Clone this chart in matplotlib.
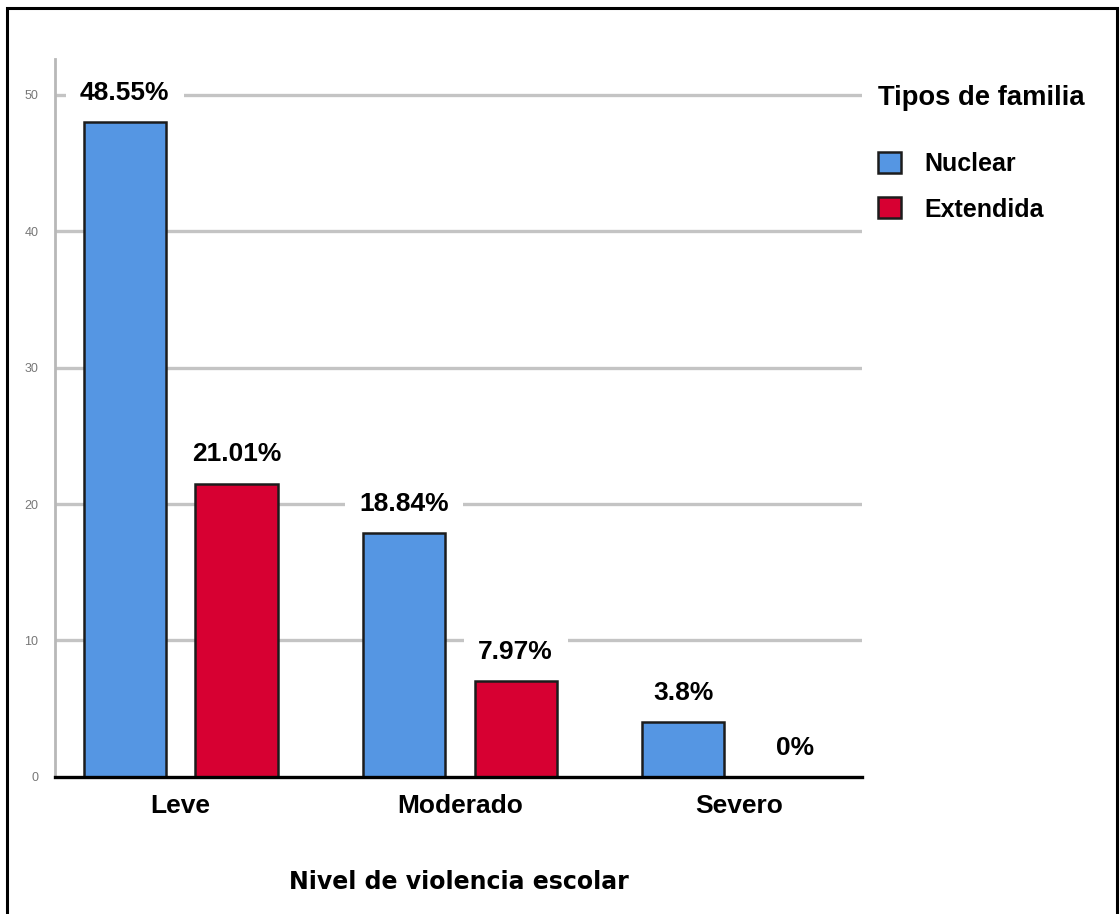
import matplotlib
matplotlib.use("Agg")
import matplotlib.pyplot as plt
import numpy as np
from matplotlib.patches import Rectangle

# data
niveles = ["Leve", "Moderado", "Severo"]
series = ["Nuclear", "Extendida"]
nuclear = [48.0, 17.9, 4.0]
extendida = [21.5, 7.0, 0.0]
nuclear_pct = ["48.55%", "18.84%", "3.8%"]
extendida_pct = ["21.01%", "7.97%", "0%"]
yticks = [0, 10, 20, 30, 40, 50]

lib = ["Liberation Sans", "DejaVu Sans"]
wide = ["DejaVu Sans", "Liberation Sans"]

fig = plt.figure(figsize=(11.2, 9.14), dpi=100)
ax = fig.add_axes([0.0491, 0.1499, 0.7205, 0.7855])

x = np.arange(len(niveles))
w = 0.294
off = 0.2
b1 = ax.bar(x - off, nuclear, w, color="#5596e3", edgecolor="#1c1c1c",
            linewidth=1.8, label=series[0], zorder=3)
b2 = ax.bar(x + off, extendida, w, color="#d70032", edgecolor="#1c1c1c",
            linewidth=1.8, label=series[1], zorder=3)

for bars, labs in ((b1, nuclear_pct), (b2, extendida_pct)):
    for r, t in zip(bars, labs):
        ax.annotate(t, (r.get_x() + r.get_width() / 2, r.get_height()),
                    xytext=(0, 21), textcoords="offset points",
                    ha="center", va="center", fontsize=19, family=lib,
                    fontweight="bold", zorder=4,
                    bbox=dict(boxstyle="square,pad=0.55", fc="white", ec="none"))

ax.set_xlim(-0.45, 2.44)
ax.set_ylim(0, 52.6)
ax.set_yticks(yticks)
ax.set_yticklabels([str(v) for v in yticks], fontsize=9, color="#777777",
                   family=lib)
ax.tick_params(axis="y", length=0, pad=12)
ax.tick_params(axis="x", length=0, pad=12)
ax.set_xticks(x)
ax.set_xticklabels(niveles, fontsize=19, fontweight="bold", family=lib)

for v in yticks[1:]:
    ax.axhline(v, color="#c4c4c4", lw=2.4, zorder=1)

for s in ("top", "right"):
    ax.spines[s].set_visible(False)
ax.spines["left"].set_color("#b8b8b8")
ax.spines["left"].set_linewidth(2.0)
ax.spines["bottom"].set_color("black")
ax.spines["bottom"].set_linewidth(2.4)
ax.spines["bottom"].set_zorder(5)

ax.set_xlabel("Nivel de violencia escolar", fontsize=17, fontweight="bold",
              family=wide, labelpad=38)

fig.text(878 / 1120, 1 - 98 / 914, "Tipos de familia", ha="left", va="center",
         fontsize=19.7, fontweight="bold", family=lib)
ax.legend(loc="upper left", bbox_to_anchor=(878 / 1120, 1 - 152 / 914),
          bbox_transform=fig.transFigure, frameon=False,
          prop=dict(family=lib, weight="bold", size=18),
          handlelength=0.92, handleheight=0.92, handletextpad=0.95,
          labelspacing=0.85, borderaxespad=0, borderpad=0)

fig.patches.append(Rectangle((7 / 1120, -0.02), 1110 / 1120, 1 - 8 / 914 + 0.02,
                             transform=fig.transFigure, fill=False,
                             ec="black", lw=2.2))

fig.savefig("out.png", dpi=100, facecolor="white")
